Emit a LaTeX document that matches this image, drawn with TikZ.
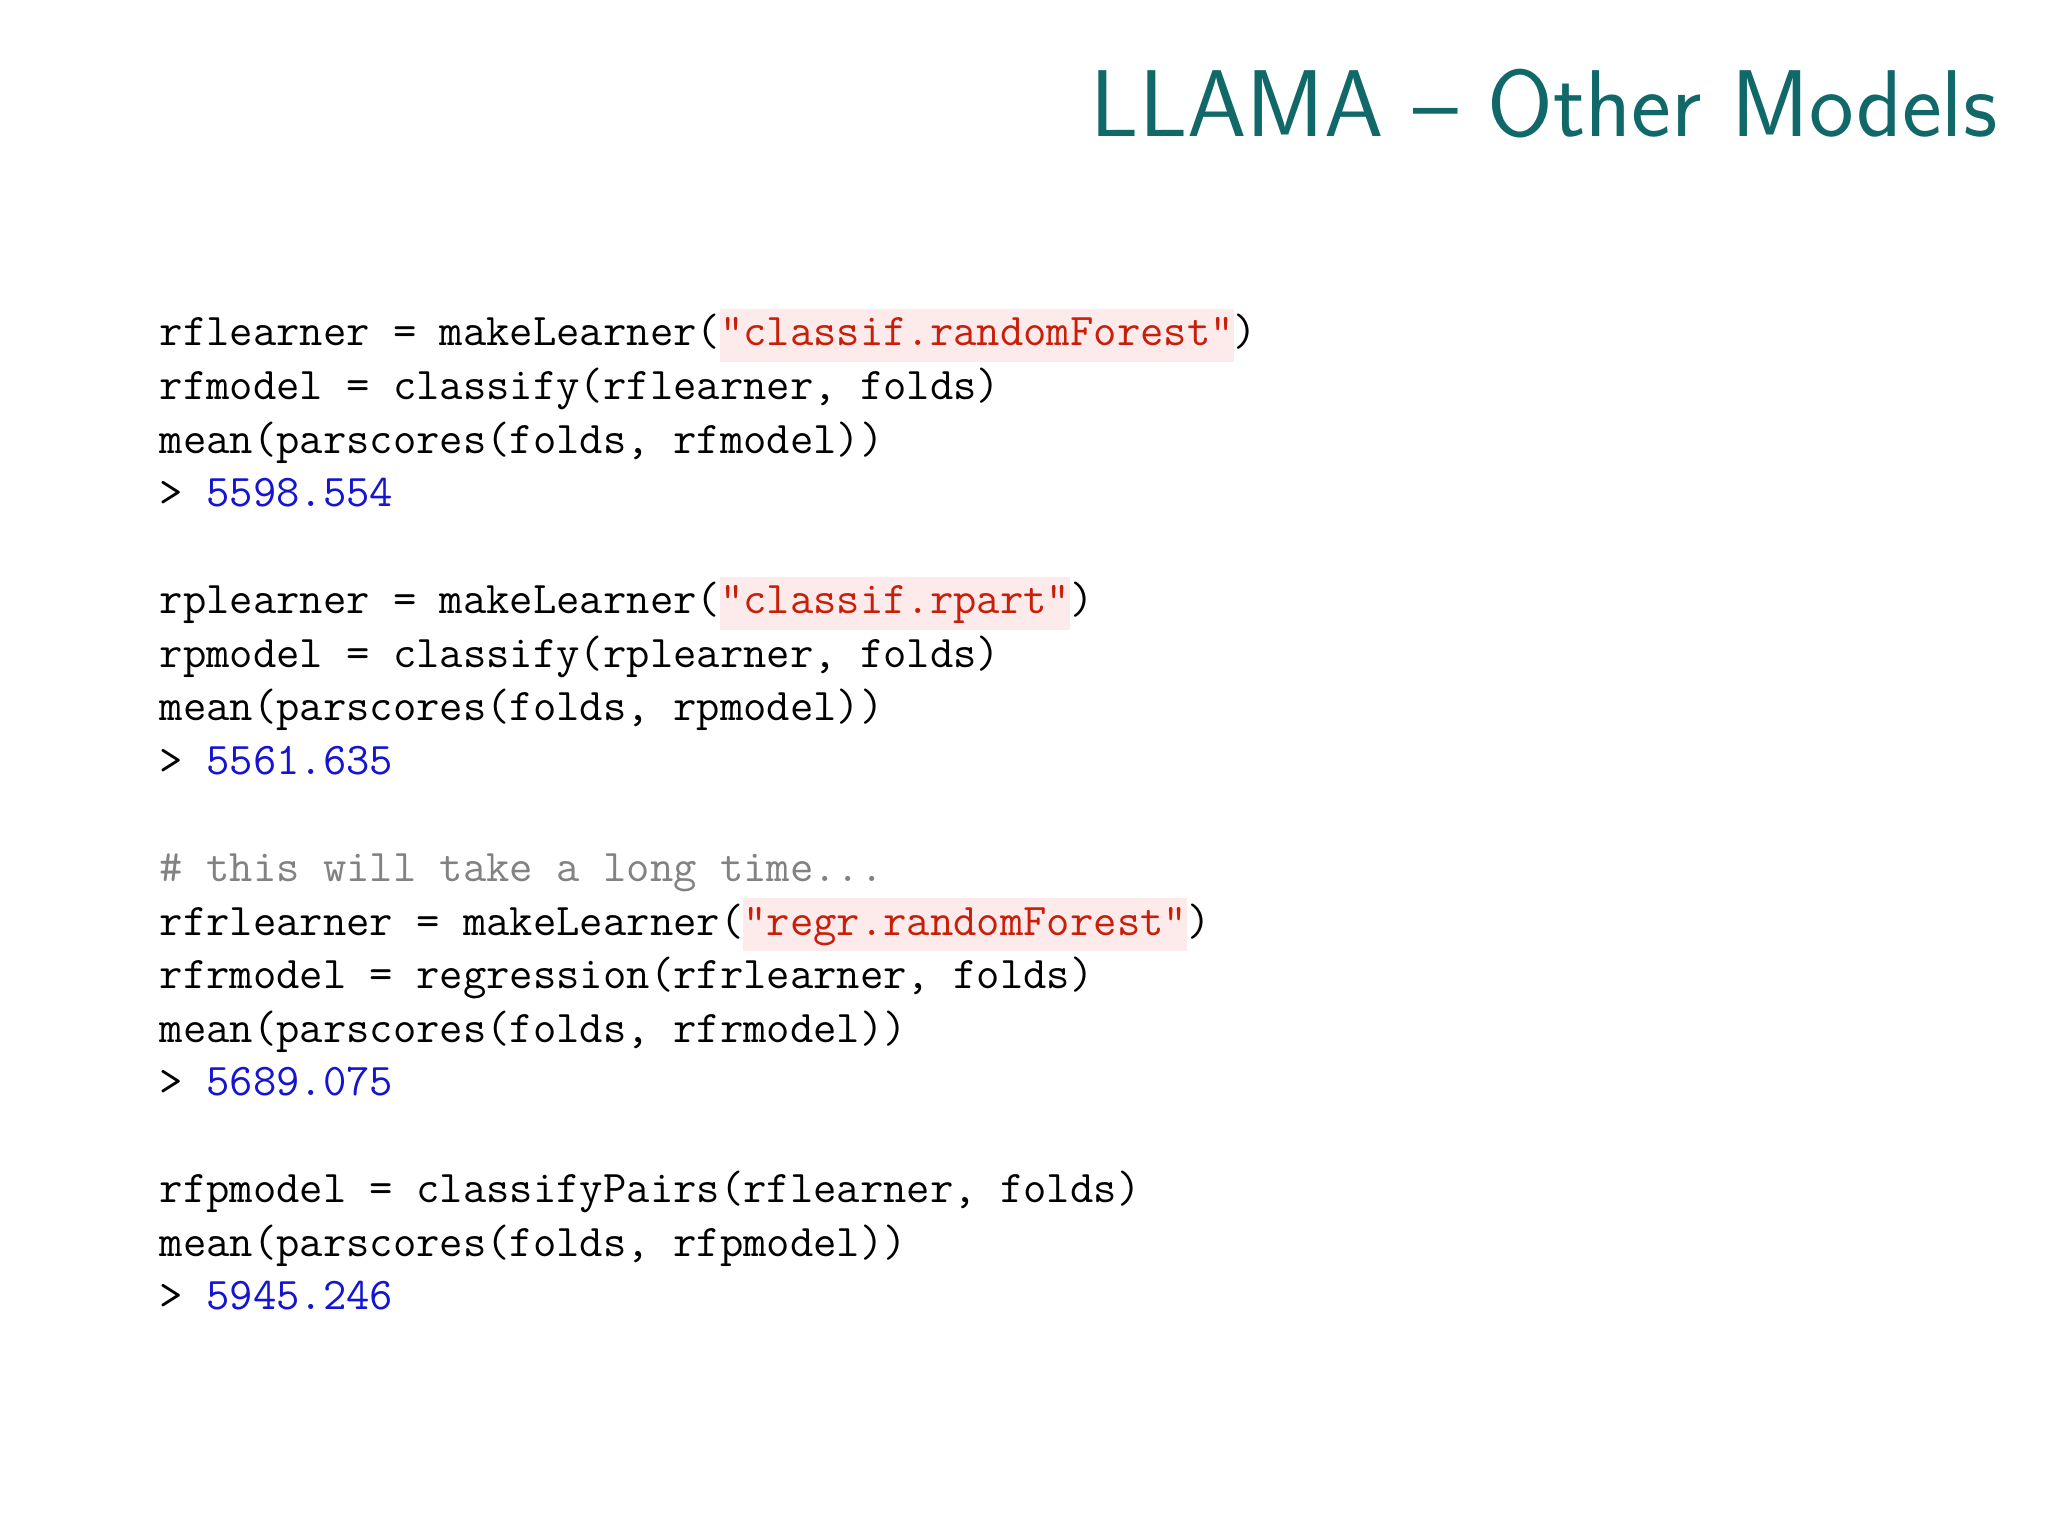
\documentclass[tikz,border=0pt]{standalone}
\usepackage{fontspec}
\definecolor{ttl}{RGB}{16,104,104}
\definecolor{strred}{RGB}{200,30,10}
\definecolor{strbg}{RGB}{253,234,234}
\definecolor{numblue}{RGB}{20,20,210}
\definecolor{cmt}{RGB}{130,130,130}
\newcommand{\rstr}[1]{{\setlength{\fboxsep}{0pt}\colorbox{strbg}{\strut\color{strred}#1}}}
\newcommand{\rnum}[1]{{\color{numblue}#1}}
\tikzset{code/.style={anchor=base west,inner sep=0pt,font=\fontsize{12.9pt}{15pt}\ttfamily}}
\begin{document}
\begin{tikzpicture}
\useasboundingbox (0,0) rectangle (20.48,-15.36);
\node[anchor=base east,inner sep=0pt,text=ttl,font=\fontsize{27pt}{30pt}\sffamily] (title) at (19.98,-1.37) {LLAMA -- Other Models};
\def\Y#1{-3.46-0.5355*#1}
\node[code] (l1) at (1.59,{\Y{0}}) {rflearner = makeLearner(\rstr{"classif.randomForest"})};
\node[code] (l2) at (1.59,{\Y{1}}) {rfmodel = classify(rflearner, folds)};
\node[code] (l3) at (1.59,{\Y{2}}) {mean(parscores(folds, rfmodel))};
\node[code] (l4) at (1.59,{\Y{3}}) {> \rnum{5598.554}};
\node[code] (l5) at (1.59,{\Y{5}}) {rplearner = makeLearner(\rstr{"classif.rpart"})};
\node[code] (l6) at (1.59,{\Y{6}}) {rpmodel = classify(rplearner, folds)};
\node[code] (l7) at (1.59,{\Y{7}}) {mean(parscores(folds, rpmodel))};
\node[code] (l8) at (1.59,{\Y{8}}) {> \rnum{5561.635}};
\node[code,text=cmt] (l9) at (1.59,{\Y{10}}) {\# this will take a long time...};
\node[code] (l10) at (1.59,{\Y{11}}) {rfrlearner = makeLearner(\rstr{"regr.randomForest"})};
\node[code] (l11) at (1.59,{\Y{12}}) {rfrmodel = regression(rfrlearner, folds)};
\node[code] (l12) at (1.59,{\Y{13}}) {mean(parscores(folds, rfrmodel))};
\node[code] (l13) at (1.59,{\Y{14}}) {> \rnum{5689.075}};
\node[code] (l14) at (1.59,{\Y{16}}) {rfpmodel = classifyPairs(rflearner, folds)};
\node[code] (l15) at (1.59,{\Y{17}}) {mean(parscores(folds, rfpmodel))};
\node[code] (l16) at (1.59,{\Y{18}}) {> \rnum{5945.246}};
\end{tikzpicture}
\end{document}
